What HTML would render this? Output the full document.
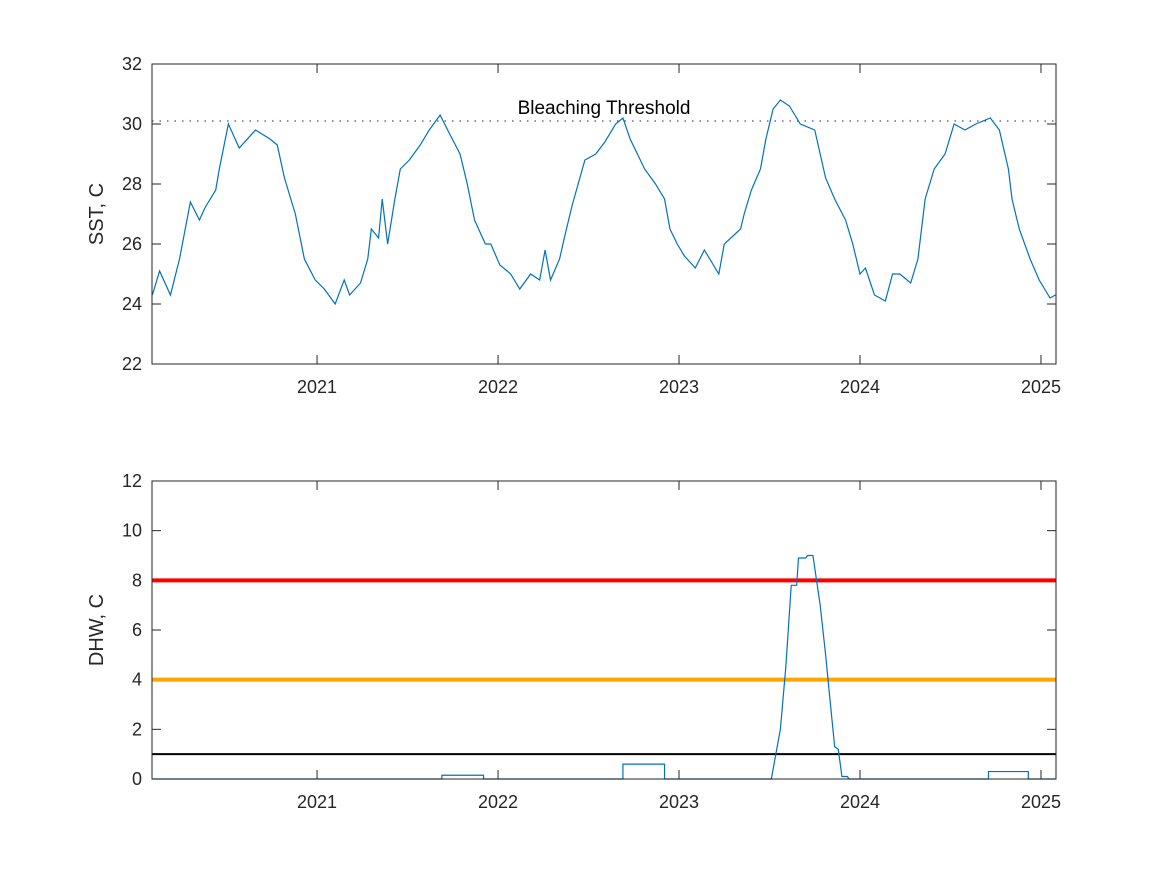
<!DOCTYPE html>
<html><head><meta charset="utf-8"><style>
body{margin:0;background:#fff;}
svg{display:block;font-family:"Liberation Sans",sans-serif;}
</style></head><body>
<svg id="fig" width="1167" height="875" viewBox="0 0 1167 875"></svg>
<script>
const sstYears=[2020.09,2020.13,2020.19,2020.24,2020.30,2020.35,2020.38,2020.44,2020.46,2020.51,2020.57,2020.66,2020.74,2020.78,2020.82,2020.88,2020.93,2020.99,2021.04,2021.10,2021.15,2021.18,2021.24,2021.28,2021.30,2021.34,2021.36,2021.39,2021.43,2021.46,2021.51,2021.57,2021.62,2021.68,2021.73,2021.79,2021.83,2021.87,2021.93,2021.96,2022.01,2022.07,2022.12,2022.18,2022.23,2022.26,2022.29,2022.34,2022.37,2022.41,2022.48,2022.54,2022.59,2022.65,2022.69,2022.73,2022.81,2022.87,2022.92,2022.95,2022.99,2023.03,2023.09,2023.14,2023.22,2023.25,2023.34,2023.36,2023.40,2023.45,2023.48,2023.52,2023.56,2023.61,2023.67,2023.75,2023.81,2023.86,2023.92,2023.96,2024.00,2024.03,2024.08,2024.14,2024.18,2024.22,2024.28,2024.32,2024.36,2024.41,2024.47,2024.52,2024.58,2024.64,2024.72,2024.77,2024.82,2024.84,2024.88,2024.94,2024.99,2025.05,2025.08];
const sstValues=[24.3,25.1,24.3,25.5,27.4,26.8,27.2,27.8,28.5,30.0,29.2,29.8,29.5,29.3,28.2,27.0,25.5,24.8,24.5,24.0,24.8,24.3,24.7,25.5,26.5,26.2,27.5,26.0,27.5,28.5,28.8,29.3,29.8,30.3,29.7,29.0,28.0,26.8,26.0,26.0,25.3,25.0,24.5,25.0,24.8,25.8,24.8,25.5,26.3,27.3,28.8,29.0,29.4,30.0,30.2,29.5,28.5,28.0,27.5,26.5,26.0,25.6,25.2,25.8,25.0,26.0,26.5,27.0,27.8,28.5,29.5,30.5,30.8,30.6,30.0,29.8,28.2,27.5,26.8,26.0,25.0,25.2,24.3,24.1,25.0,25.0,24.7,25.5,27.5,28.5,29.0,30.0,29.8,30.0,30.2,29.8,28.5,27.5,26.5,25.5,24.8,24.2,24.3];
const dhwYears=[2020.09,2021.69,2021.69,2021.92,2021.92,2022.69,2022.69,2022.92,2022.92,2023.51,2023.56,2023.59,2023.62,2023.65,2023.66,2023.70,2023.71,2023.74,2023.78,2023.81,2023.83,2023.86,2023.88,2023.90,2023.93,2023.94,2024.71,2024.71,2024.93,2024.93,2025.08];
const dhwValues=[0,0,0.15,0.15,0,0,0.6,0.6,0,0,2.0,4.5,7.8,7.8,8.9,8.9,9.0,9.0,7.0,5.0,3.5,1.3,1.2,0.1,0.1,0,0,0.3,0.3,0,0];
const xTicks=[2021,2022,2023,2024,2025];
const sstTicks=[22,24,26,28,30,32];
const dhwTicks=[0,2,4,6,8,10,12];
const bleachThreshold=30.1;
const alertLevels=[1,4,8];
const alertColors=['#000000','#FFA500','#FF0000'];
const alertWidths=[2,4,4];

const NS='http://www.w3.org/2000/svg';
const svg=document.getElementById('fig');
const X0=152,X1=1056,T0=2020.088,T1=2025.083;
const xs=t=>X0+(t-T0)/(T1-T0)*(X1-X0);
function mk(tag,attrs,parent){const e=document.createElementNS(NS,tag);for(const k in attrs)e.setAttribute(k,attrs[k]);(parent||svg).appendChild(e);return e;}

function axes(top,bot,ymin,ymax,yticks,label,name){
  const g=mk('g',{});
  
  
  const ys=v=>bot-(v-ymin)/(ymax-ymin)*(bot-top);
  mk('rect',{x:X0,y:top,width:X1-X0,height:bot-top,fill:'#fff',stroke:'none'},g);
  xTicks.forEach(t=>{const x=xs(t);
    mk('line',{x1:x,x2:x,y1:bot,y2:bot-9,stroke:'#262626'},g);
    mk('line',{x1:x,x2:x,y1:top,y2:top+9,stroke:'#262626'},g);
    const tx=mk('text',{x:x,y:bot+29,'text-anchor':'middle','font-size':18,fill:'#262626'},g);
    tx.textContent=t;
    
    
  });
  yticks.forEach(v=>{const y=ys(v);
    mk('line',{x1:X0,x2:X0+9,y1:y,y2:y,stroke:'#262626'},g);
    mk('line',{x1:X1,x2:X1-9,y1:y,y2:y,stroke:'#262626'},g);
    const tx=mk('text',{x:X0-10,y:y+6,'text-anchor':'end','font-size':18,fill:'#262626'},g);
    tx.textContent=v;
    
    
  });
  const yl=mk('text',{x:0,y:0,'text-anchor':'middle','font-size':20,fill:'#262626',transform:`translate(103,${(top+bot)/2}) rotate(-90)`},g);
  yl.textContent=label;
  
  
  return {g,ys,top,bot};
}

const A=axes(64,364,22,32,sstTicks,'SST, C','sst-axes');
const ty=A.ys(bleachThreshold);
const th=mk('line',{x1:X0,x2:X1,y1:ty,y2:ty,stroke:'#1a1a80','stroke-dasharray':'1.5 6'},A.g);


const tt=mk('text',{x:604,y:114,'text-anchor':'middle','font-size':19,fill:'#000'},A.g);
tt.textContent='Bleaching Threshold';


const sp=mk('polyline',{points:sstYears.map((t,i)=>xs(t)+','+A.ys(sstValues[i])).join(' '),fill:'none',stroke:'#0072BD','stroke-width':1.2},A.g);


mk('rect',{x:X0,y:64,width:X1-X0,height:300,fill:'none',stroke:'#262626'},A.g);

const B=axes(481,779,0,12,dhwTicks,'DHW, C','dhw-axes');
alertLevels.forEach((v,i)=>{
  const l=mk('line',{x1:X0,x2:X1,y1:B.ys(v),y2:B.ys(v),stroke:alertColors[i],'stroke-width':alertWidths[i]},B.g);
  
  
});
const dp=mk('polyline',{points:dhwYears.map((t,i)=>xs(t)+','+B.ys(dhwValues[i])).join(' '),fill:'none',stroke:'#0072BD','stroke-width':1.2},B.g);


mk('rect',{x:X0,y:481,width:X1-X0,height:298,fill:'none',stroke:'#262626'},B.g);
</script>
</body></html>
